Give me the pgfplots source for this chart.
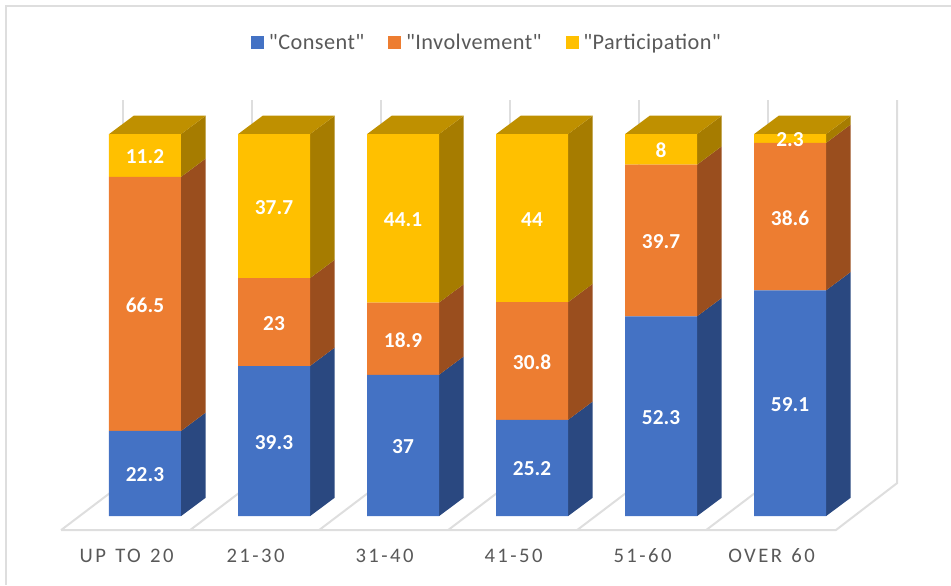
\documentclass[border=0pt]{standalone}
\usepackage{fontspec}
\setmainfont{Carlito}
\newfontfamily\ticklab[LetterSpace=12,WordSpace=1.3]{Carlito}
\newfontfamily\leglab[LetterSpace=2]{Carlito}
\usepackage{pgfplots}
\usepackage{pgfplotstable}
\pgfplotsset{compat=1.18}
\definecolor{cA}{HTML}{4472C4}
\definecolor{cB}{HTML}{ED7D31}
\definecolor{cC}{HTML}{FFC000}
\definecolor{sA}{HTML}{2A4880}
\definecolor{sB}{HTML}{9A4E1E}
\definecolor{sC}{HTML}{A67C00}
\definecolor{tC}{HTML}{BF9000}
\definecolor{gl}{HTML}{DEDEDE}
\definecolor{tx}{HTML}{595959}
\pgfplotstableread{
x a b c
0 22.3 66.5 11.2
1 39.3 23 37.7
2 37 18.9 44.1
3 25.2 30.8 44
4 52.3 39.7 8
5 59.1 38.6 2.3
}\data
\newcommand\seg[4]{%
  \pgfmathsetmacro\xa{#1+0.2791}%
  \pgfmathsetmacro\xb{#1+0.4706}%
  \pgfmathsetmacro\ya{#2+4.82}%
  \pgfmathsetmacro\yb{#3+4.82}%
  \addplot[fill=#4,draw=none,forget plot] coordinates {(\xa,#2)(\xb,\ya)(\xb,\yb)(\xa,#3)} --cycle;}
\newcommand\topf[1]{%
  \pgfmathsetmacro\xa{#1-0.2791}%
  \pgfmathsetmacro\xb{#1+0.2791}%
  \pgfmathsetmacro\xc{#1+0.4706}%
  \pgfmathsetmacro\xd{#1-0.0876}%
  \addplot[fill=tC,draw=none,forget plot] coordinates {(\xa,100)(\xb,100)(\xc,104.82)(\xd,104.82)} --cycle;}
\newcommand\gline[4]{\addplot[gl,line width=1.5pt,forget plot] coordinates {(#1,#2)(#3,#4)};}
\pgfplotsset{base/.style={
  scale only axis,width=713.25pt,height=438.75pt,
  xmin=-1.124,xmax=6.248,ymin=-18.06,ymax=135.08,
  axis line style={draw=none},ymajorticks=false}}
\begin{document}
\begin{tikzpicture}
\begin{axis}[base,xmajorticks=false]
% frame
\addplot[gl,line width=1.6pt,forget plot] coordinates {(6.248,133.5)(-1.0775,133.5)(-1.0775,-18.06)};
% floor and back wall
\addplot[gl,line width=1.5pt,forget plot] coordinates {(-0.651,-3.665)(5.355,-3.665)(5.83,8.64)(5.83,108.9)};
\gline{-0.651}{-3.665}{-0.1705}{8.64}
\gline{0.349}{-3.665}{0.8295}{8.64}
\gline{1.349}{-3.665}{1.8295}{8.64}
\gline{2.349}{-3.665}{2.8295}{8.64}
\gline{3.349}{-3.665}{3.8295}{8.64}
\gline{4.349}{-3.665}{4.8295}{8.64}
\gline{-0.1705}{80}{-0.1705}{108.9}
\gline{0.8295}{80}{0.8295}{108.9}
\gline{1.8295}{80}{1.8295}{108.9}
\gline{2.8295}{80}{2.8295}{108.9}
\gline{3.8295}{80}{3.8295}{108.9}
\gline{4.8295}{80}{4.8295}{108.9}
% sides
\seg{0}{0}{22.3}{sA}\seg{0}{22.3}{88.8}{sB}\seg{0}{88.8}{100}{sC}\topf{0}
\seg{1}{0}{39.3}{sA}\seg{1}{39.3}{62.3}{sB}\seg{1}{62.3}{100}{sC}\topf{1}
\seg{2}{0}{37}{sA}\seg{2}{37}{55.9}{sB}\seg{2}{55.9}{100}{sC}\topf{2}
\seg{3}{0}{25.2}{sA}\seg{3}{25.2}{56}{sB}\seg{3}{56}{100}{sC}\topf{3}
\seg{4}{0}{52.3}{sA}\seg{4}{52.3}{92}{sB}\seg{4}{92}{100}{sC}\topf{4}
\seg{5}{0}{59.1}{sA}\seg{5}{59.1}{97.7}{sB}\seg{5}{97.7}{100}{sC}\topf{5}
\end{axis}
\begin{axis}[base,ybar stacked,bar width=54pt,
  xtick=data,xticklabels={UP TO 20,21-30,31-40,41-50,51-60,OVER 60},
  major tick length=0pt,
  xticklabel style={anchor=center,yshift=22pt,xshift=-13.8pt,font=\ticklab\fontsize{15.5}{16}\selectfont,text=tx},
  legend style={at={(0.5125,0.927)},anchor=center,draw=none,fill=none,legend columns=3,
    font=\leglab\fontsize{16.7}{17}\selectfont,text=tx,
    /tikz/every even column/.append style={column sep=16pt},
    /tikz/every odd column/.append style={column sep=1.5pt},
    inner sep=0pt,outer sep=0pt},
  legend image code/.code={\fill[#1] (0pt,-4.9pt) rectangle (9.75pt,4.85pt);},
  nodes near coords={\pgfmathprintnumber[assume math mode=true]{\pgfplotspointmeta}},
  every node near coord/.append style={anchor=center,yshift=-0.8pt,text=white,font=\bfseries\fontsize{16}{16}\selectfont},
  ]
\addplot[fill=cA,draw=none] table[x=x,y=a]{\data};
\addplot[fill=cB,draw=none] table[x=x,y=b]{\data};
\addplot[fill=cC,draw=none] table[x=x,y=c]{\data};
\legend{"Consent","Involvement","Participation"}
\end{axis}
\end{tikzpicture}
\end{document}
